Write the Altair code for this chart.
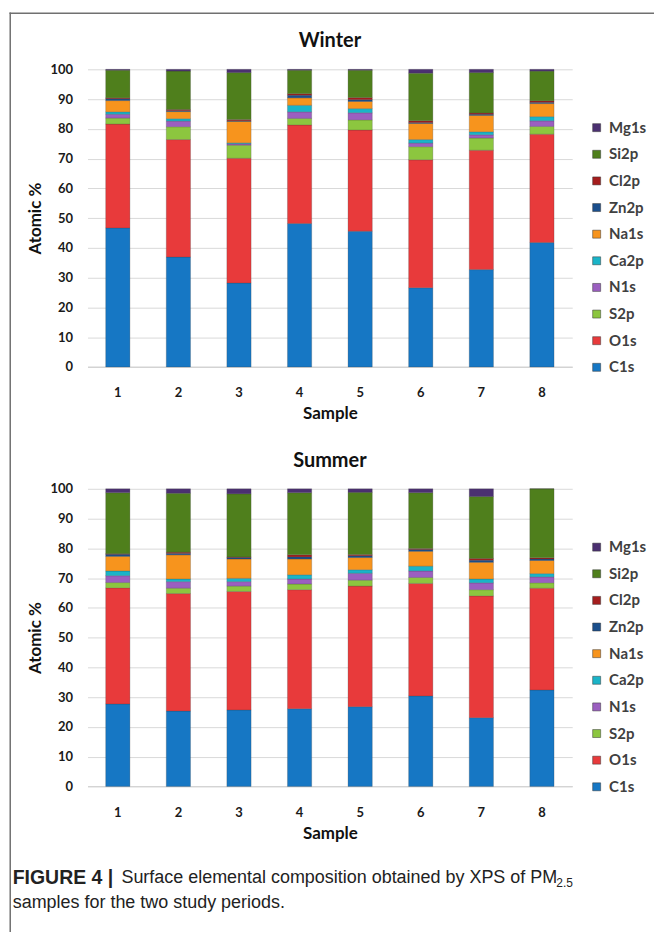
import altair as alt
import pandas as pd

samples = [1, 2, 3, 4, 5, 6, 7, 8]
elements = ["C1s", "O1s", "S2p", "N1s", "Ca2p", "Na1s", "Zn2p", "Cl2p", "Si2p", "Mg1s"]
colors = ["#1677c4", "#e83a3b", "#8cc63f", "#9b5fc0", "#1ab4c8", "#f7941d",
          "#1b4f8c", "#a51d1d", "#4f7f1c", "#4b3071"]

# Winter (atomic %), one list per element, samples 1..8
winter_c1s = [46.7, 36.9, 28.2, 48.2, 45.6, 26.6, 32.7, 41.8]
winter_o1s = [34.9, 39.5, 41.9, 33.1, 34.0, 43.0, 40.1, 36.4]
winter_s2p = [2.0, 4.3, 4.4, 2.2, 3.4, 4.4, 4.1, 2.6]
winter_n1s = [1.3, 1.9, 0.5, 2.2, 2.4, 1.2, 1.1, 1.9]
winter_ca2p = [0.8, 0.8, 0.3, 2.2, 1.4, 1.2, 1.0, 1.4]
winter_na1s = [3.8, 2.4, 7.2, 2.5, 2.4, 5.4, 5.5, 4.4]
winter_zn2p = [0.6, 0.3, 0.2, 0.9, 0.6, 0.3, 0.4, 0.4]
winter_cl2p = [0.3, 0.4, 0.4, 0.5, 0.7, 0.6, 0.4, 0.5]
winter_si2p = [9.3, 12.9, 15.8, 7.9, 9.2, 16.0, 13.6, 10.0]
winter_mg1s = [0.3, 0.6, 1.1, 0.3, 0.3, 1.3, 1.1, 0.6]

# Summer (atomic %)
summer_c1s = [27.7, 25.3, 25.7, 26.1, 26.8, 30.4, 23.1, 32.4]
summer_o1s = [39.0, 39.5, 39.8, 40.0, 40.5, 37.8, 40.9, 34.2]
summer_s2p = [1.8, 1.8, 1.8, 1.9, 2.0, 2.0, 2.1, 1.8]
summer_n1s = [2.3, 2.2, 1.5, 1.7, 2.3, 2.2, 2.3, 2.0]
summer_ca2p = [1.6, 0.9, 1.1, 1.4, 1.2, 1.6, 1.3, 1.1]
summer_na1s = [4.9, 8.1, 6.5, 5.3, 4.1, 5.0, 5.6, 4.4]
summer_zn2p = [0.7, 0.5, 0.5, 0.7, 0.6, 0.6, 0.7, 0.5]
summer_cl2p = [0.2, 0.4, 0.2, 0.7, 0.4, 0.3, 0.6, 0.4]
summer_si2p = [20.5, 19.8, 21.2, 20.9, 20.9, 18.8, 20.8, 23.2]
summer_mg1s = [1.3, 1.5, 1.7, 1.3, 1.2, 1.3, 2.6, 0.0]

winter_lists = [winter_c1s, winter_o1s, winter_s2p, winter_n1s, winter_ca2p,
                winter_na1s, winter_zn2p, winter_cl2p, winter_si2p, winter_mg1s]
summer_lists = [summer_c1s, summer_o1s, summer_s2p, summer_n1s, summer_ca2p,
                summer_na1s, summer_zn2p, summer_cl2p, summer_si2p, summer_mg1s]


def make_df(lists):
    rows = []
    for idx, (el, vals) in enumerate(zip(elements, lists)):
        for s, v in zip(samples, vals):
            rows.append({"Sample": s, "Element": el, "idx": idx, "Value": v})
    return pd.DataFrame(rows)


FONT = "Lato"
W, H = 486, 298.4
CAP_FONT = "Liberation Sans"


def panel(df, title):
    bars = alt.Chart(df).mark_bar(
        stroke="#3a3a3a", strokeWidth=0.4, strokeOpacity=0.6
    ).encode(
        x=alt.X("Sample:O", scale=alt.Scale(paddingInner=0.6, paddingOuter=0.3),
                axis=alt.Axis(title="Sample", labelAngle=0, ticks=False, tickSize=0,
                              labelFont=FONT, labelFontWeight="bold", labelFontSize=13,
                              labelColor="#1a1a1a", labelPadding=20,
                              titleFont=FONT, titleFontWeight="bold", titleFontSize=17,
                              titleColor="#111", titlePadding=6,
                              domain=True, domainColor="#d0d0d0", domainWidth=1)),
        y=alt.Y("Value:Q", stack="zero", scale=alt.Scale(domain=[0, 100], nice=False),
                axis=alt.Axis(title="Atomic %", values=list(range(0, 101, 10)),
                              ticks=False, tickSize=0, domain=False,
                              grid=True, gridColor="#d9d9d9", gridWidth=1,
                              labelFont=FONT, labelFontWeight="bold", labelFontSize=13,
                              labelColor="#1a1a1a", labelPadding=15,
                              titleFont=FONT, titleFontWeight="bold", titleFontSize=17,
                              titleColor="#111", titlePadding=6)),
        color=alt.Color("Element:N",
                        scale=alt.Scale(domain=elements, range=colors),
                        legend=alt.Legend(orient="none", legendX=503, legendY=51,
                                          direction="vertical",
                                          values=elements[::-1], title=None,
                                          symbolType="square", symbolSize=64,
                                          symbolStrokeWidth=0.5, symbolStrokeColor="#333",
                                          labelFont=FONT, labelFontWeight="bold",
                                          labelFontSize=15, labelColor="#404040",
                                          rowPadding=10.7, labelOffset=5)),
        order=alt.Order("idx:Q", sort="ascending"),
        tooltip=["Sample:O", "Element:N", "Value:Q"],
    )
    return bars.properties(
        width=W, height=H,
        title=alt.TitleParams(title, font=FONT, fontSize=20, fontWeight="bold",
                              color="#111", anchor="middle", offset=12))


winter = panel(make_df(winter_lists), "Winter")
summer = panel(make_df(summer_lists), "Summer")

one = pd.DataFrame({"a": [0]})

# Bottom group: caption and the page frame (origin at global x=87, y=908.3)
OY = 908.3
frame_top = alt.Chart(one).mark_rule(color="#707070", strokeWidth=1.5).encode(
    x=alt.value(-78.25), x2=alt.value(568), y=alt.value(11 - OY))
frame_left = alt.Chart(one).mark_rule(color="#707070", strokeWidth=1.5).encode(
    x=alt.value(-77.5), y=alt.value(10.25 - OY), y2=alt.value(932 - OY))

cap_y1 = 878 - OY
cap_y2 = 903 - OY
cap_bold = alt.Chart(one).mark_text(
    align="left", baseline="middle", font=CAP_FONT, fontWeight="bold",
    fontSize=19.5, color="#222").encode(
    x=alt.value(-75), y=alt.value(cap_y1), text=alt.value("FIGURE 4 |"))
cap_main = alt.Chart(one).mark_text(
    align="left", baseline="middle", font=CAP_FONT, fontSize=18, color="#222").encode(
    x=alt.value(34), y=alt.value(cap_y1),
    text=alt.value("Surface elemental composition obtained by XPS of PM"))
cap_sub = alt.Chart(one).mark_text(
    align="left", baseline="middle", font=CAP_FONT, fontSize=12, color="#222").encode(
    x=alt.value(470), y=alt.value(cap_y1 + 5), text=alt.value("2.5"))
cap_line2 = alt.Chart(one).mark_text(
    align="left", baseline="middle", font=CAP_FONT, fontSize=18, color="#222").encode(
    x=alt.value(-75), y=alt.value(cap_y2),
    text=alt.value("samples for the two study periods."))

bottom = alt.layer(frame_top, frame_left, cap_bold, cap_main, cap_sub, cap_line2).properties(
    width=W, height=1)

chart = alt.vconcat(winter, summer, bottom, spacing=121.6, bounds="flush").resolve_scale(
    color="independent"
).properties(
    padding={"left": 8.75, "top": 10.25, "right": 0, "bottom": 0},
    background="white",
).configure_view(stroke=None)

chart.save("out.html", embed_options={"renderer": "svg", "actions": False})
